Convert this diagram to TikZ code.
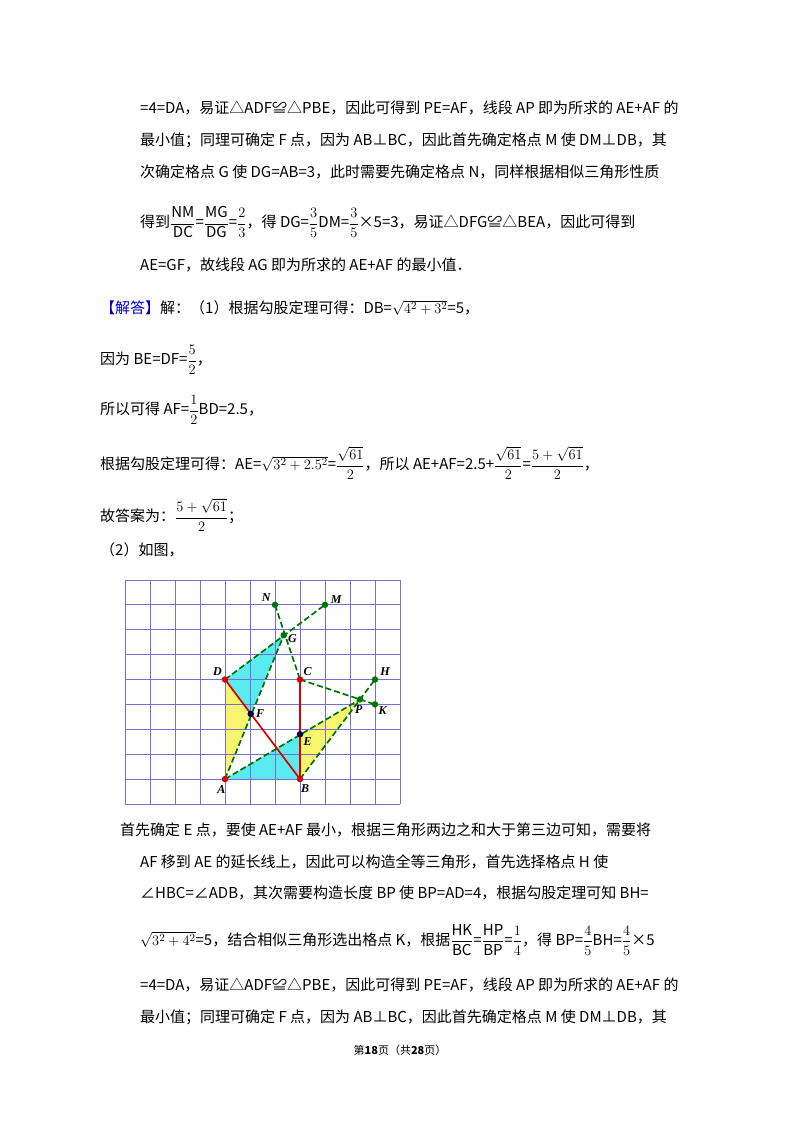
\documentclass[tikz,border=0pt]{standalone}
\usepackage{fontspec}
\setmainfont{Noto Sans CJK SC}
\newfontfamily\labfont{Liberation Serif}
\usepackage{amsmath}
\newcommand{\fr}[2]{$\dfrac{#1}{#2}$}
\definecolor{aqua}{RGB}{90,235,240}
\definecolor{yel}{RGB}{250,245,110}
\definecolor{gridc}{RGB}{120,110,210}
\begin{document}
\begin{tikzpicture}[x=1pt,y=1pt,
  txt/.style={anchor=west,inner sep=0pt,font=\fontsize{15}{18}\selectfont},
  dot/.style={circle,inner sep=0pt,minimum size=6.5pt},
  lab/.style={font=\fontsize{12}{13}\selectfont\labfont\bfseries\itshape},
  gdash/.style={draw=green!45!black,dash pattern=on 6pt off 3pt,line width=1.7pt},
  redl/.style={draw=red!85!black,line width=1.7pt}]
\useasboundingbox[fill=white] (0,0) rectangle (800,-1132);
\node[txt] (l1) at (140,-108) {=4=DA，易证△ADF≌△PBE，因此可得到 PE=AF，线段 AP 即为所求的 AE+AF 的};
\node[txt] (l2) at (140,-140) {最小值；同理可确定 F 点，因为 AB⊥BC，因此首先确定格点 M 使 DM⊥DB，其};
\node[txt] (l3) at (140,-172) {次确定格点 G 使 DG=AB=3，此时需要先确定格点 N，同样根据相似三角形性质};
\node[txt] (l4) at (140,-222) {得到\fr{\mathrm{NM}}{\mathrm{DC}}=\fr{\mathrm{MG}}{\mathrm{DG}}=\fr{2}{3}，得 DG=\fr{3}{5}DM=\fr{3}{5}×5=3，易证△DFG≌△BEA，因此可得到};
\node[txt] (l5) at (140,-265) {AE=GF，故线段 AG 即为所求的 AE+AF 的最小值．};
\node[txt] (l6) at (100,-308) {\textcolor{blue!80!black}{【解答】}解：（1）根据勾股定理可得：DB=$\sqrt{4^2+3^2}$=5，};
\node[txt] (l7) at (100,-360) {因为 BE=DF=\fr{5}{2}，};
\node[txt] (l8) at (100,-410) {所以可得 AF=\fr{1}{2}BD=2.5，};
\node[txt] (l9) at (100,-463) {根据勾股定理可得：AE=$\sqrt{3^2+2.5^2}$=\fr{\sqrt{61}}{2}，所以 AE+AF=2.5+\fr{\sqrt{61}}{2}=\fr{5+\sqrt{61}}{2}，};
\node[txt] (l10) at (100,-515) {故答案为：\fr{5+\sqrt{61}}{2}；};
\node[txt] (l11) at (100,-550) {（2）如图，};
\node[txt] (l12) at (120,-830) {首先确定 E 点，要使 AE+AF 最小，根据三角形两边之和大于第三边可知，需要将};
\node[txt] (l13) at (140,-862) {AF 移到 AE 的延长线上，因此可以构造全等三角形，首先选择格点 H 使};
\node[txt] (l14) at (140,-893) {∠HBC=∠ADB，其次需要构造长度 BP 使 BP=AD=4，根据勾股定理可知 BH=};
\node[txt] (l15) at (140,-940) {$\sqrt{3^2+4^2}$=5，结合相似三角形选出格点 K，根据\fr{\mathrm{HK}}{\mathrm{BC}}=\fr{\mathrm{HP}}{\mathrm{BP}}=\fr{1}{4}，得 BP=\fr{4}{5}BH=\fr{4}{5}×5};
\node[txt] (l16) at (140,-985) {=4=DA，易证△ADF≌△PBE，因此可得到 PE=AF，线段 AP 即为所求的 AE+AF 的};
\node[txt] (l17) at (140,-1017) {最小值；同理可确定 F 点，因为 AB⊥BC，因此首先确定格点 M 使 DM⊥DB，其};
\node[inner sep=0pt,font=\fontsize{11}{12}\selectfont] (pg) at (400,-1050) {第\textbf{18}页（共\textbf{28}页）};
\begin{scope}[shift={(125,-804)},x=25pt,y=24.9pt]
\coordinate (A) at (4,1); \coordinate (B) at (7,1); \coordinate (C) at (7,5); \coordinate (D) at (4,5);
\coordinate (E) at (7,2.8); \coordinate (F) at (5.03,3.62); \coordinate (G) at (6.35,6.78);
\coordinate (N) at (6,8); \coordinate (M) at (8,8); \coordinate (H) at (10,5); \coordinate (K) at (10,4);
\coordinate (P) at (9.4,4.2);
\fill[aqua] (D)--(G)--(F)--cycle; \fill[aqua] (A)--(B)--(E)--cycle;
\fill[yel] (D)--(F)--(A)--cycle; \fill[yel] (E)--(P)--(B)--cycle;
\draw[gridc,line width=0.8pt,step=1] (0,0) grid (11,9);
\draw[gdash] (D)--(M); \draw[gdash] (N)--(C); \draw[gdash] (A)--(G);
\draw[gdash] (A)--(P); \draw[gdash] (B)--(H); \draw[gdash] (C)--(K);
\draw[redl] (D)--(B); \draw[redl] (C)--(B);
\foreach \p in {A,B,C,D} \node[dot,fill=red!85!black] at (\p) {};
\foreach \p in {E,F} \node[dot,fill=blue!30!black] at (\p) {};
\foreach \p in {G,N,M,H,K,P} \node[dot,fill=green!45!black] at (\p) {};
\node[lab] (la) at (3.85,0.6) {A}; \node[lab] (lb) at (7.2,0.6) {B};
\node[lab] (lc) at (7.3,5.3) {C}; \node[lab] (ld) at (3.7,5.3) {D};
\node[lab] (le) at (7.3,2.5) {E}; \node[lab] (lf) at (5.4,3.65) {F};
\node[lab] (lg) at (6.7,6.65) {G}; \node[lab] (ln) at (5.65,8.3) {N};
\node[lab] (lm) at (8.45,8.2) {M}; \node[lab] (lh) at (10.4,5.3) {H};
\node[lab] (lk) at (10.3,3.75) {K}; \node[lab] (lp) at (9.35,3.8) {P};
\end{scope}
\end{tikzpicture}
\end{document}
